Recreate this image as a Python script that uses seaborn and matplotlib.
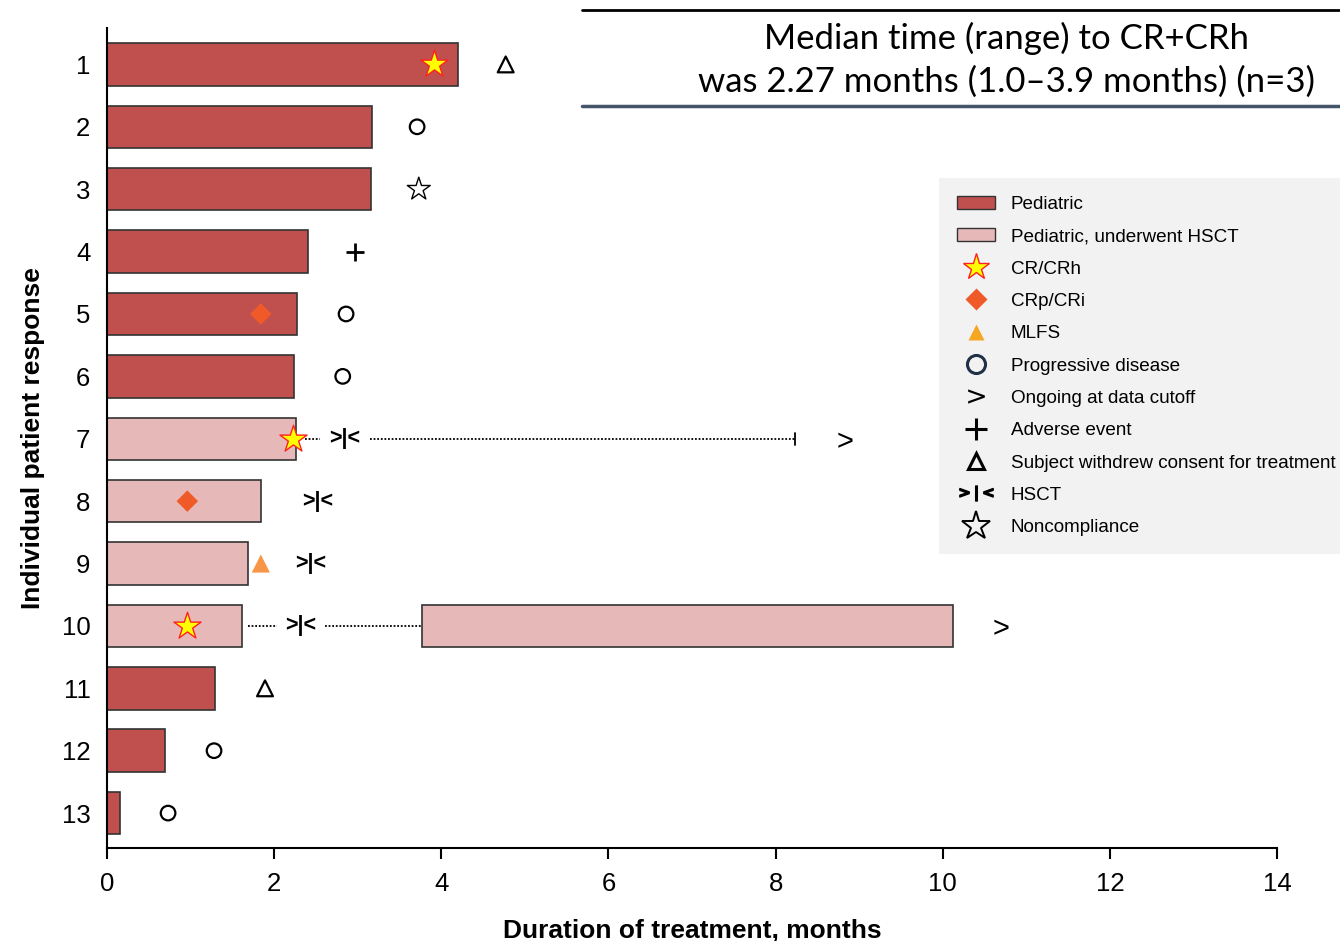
import numpy as np
import pandas as pd
import matplotlib
matplotlib.use("Agg")
import matplotlib.pyplot as plt
import seaborn as sns
from matplotlib.lines import Line2D
from matplotlib.patches import Patch

# Per-patient treatment duration (months)
patients = list(range(1, 14))
duration = [4.20, 3.17, 3.16, 2.41, 2.27, 2.24, 2.26, 1.84, 1.69, 1.62, 1.29, 0.69, 0.16]
group = ["Pediatric"] * 6 + ["Pediatric, underwent HSCT"] * 4 + ["Pediatric"] * 3

# Second treatment segment after HSCT (patient 10)
seg2_patient = [10]
seg2_start = [3.77]
seg2_end = [10.12]

# Response / event markers
cr_patient = [1, 7, 10]
cr_time = [3.91, 2.23, 0.96]
crp_patient = [5, 8]
crp_time = [1.84, 0.96]
mlfs_patient = [9]
mlfs_time = [1.84]
pd_patient = [2, 5, 6, 12, 13]
pd_time = [3.71, 2.86, 2.82, 1.28, 0.73]
ongoing_patient = [7, 10]
ongoing_time = [8.83, 10.70]
ae_patient = [4]
ae_time = [2.97]
withdrew_patient = [1, 11]
withdrew_time = [4.77, 1.89]
hsct_patient = [7, 8, 9, 10]
hsct_time = [2.84, 2.52, 2.43, 2.32]
noncomp_patient = [3]
noncomp_time = [3.73]

# Dotted follow-up lines
dot_patient = [7, 7, 10, 10]
dot_start = [2.37, 3.15, 1.69, 2.61]
dot_end = [2.55, 8.23, 2.03, 3.77]
end_tick_patient = [7]
end_tick_time = [8.23]

c_dark = "#C0504D"
c_light = "#E6B9B8"
palette = {"Pediatric": c_dark, "Pediatric, underwent HSCT": c_light}

sns.set_style("white")
plt.rcParams['font.family'] = ['Liberation Sans', 'DejaVu Sans']
plt.rcParams['text.color'] = 'black'
plt.rcParams['axes.labelcolor'] = 'black'
plt.rcParams['xtick.color'] = 'black'
plt.rcParams['ytick.color'] = 'black'

fig = plt.figure(figsize=(13.4, 9.41), dpi=100)
ax = fig.add_axes([0.0799, 0.0988, 0.8731, 0.8712])

df = pd.DataFrame({"patient": patients, "duration": duration, "group": group})
sns.barplot(data=df, x="duration", y="patient", hue="group", orient="y",
            native_scale=True, dodge=False, palette=palette, width=0.68,
            saturation=1, edgecolor="#333333", linewidth=1.2, legend=False, ax=ax)
ax.barh(seg2_patient, np.array(seg2_end) - np.array(seg2_start), left=seg2_start,
        height=0.68, color=c_light, edgecolor="#333333", linewidth=1.2)

for p, s, e in zip(dot_patient, dot_start, dot_end):
    ax.plot([s, e], [p, p], color="black", lw=1.3, ls=(0, (1, 1)))
for p, t in zip(end_tick_patient, end_tick_time):
    ax.plot([t, t], [p - 0.1, p + 0.1], color="black", lw=1.3)

ax.scatter(cr_time, cr_patient, marker="*", s=420, facecolor="#FFFF00",
           edgecolor="#FF2020", linewidth=1.0, zorder=5)
ax.scatter(crp_time, crp_patient, marker="D", s=120, facecolor="#F05A28",
           edgecolor="none", zorder=5)
ax.scatter(mlfs_time, mlfs_patient, marker="^", s=170, facecolor="#F79646",
           edgecolor="none", zorder=5)
ax.scatter(pd_time, pd_patient, marker="o", s=110, facecolor="none",
           edgecolor="black", linewidth=1.6, zorder=5)
ax.scatter(ae_time, ae_patient, marker="+", s=170, color="black",
           linewidth=2.0, zorder=5)
ax.scatter(withdrew_time, withdrew_patient, marker="^", s=130, facecolor="none",
           edgecolor="black", linewidth=1.6, zorder=5)
ax.scatter(noncomp_time, noncomp_patient, marker="*", s=300, facecolor="none",
           edgecolor="black", linewidth=1.0, zorder=5)
for p, t in zip(hsct_patient, hsct_time):
    ax.text(t, p, ">|<", ha="center", va="center", fontsize=15.5,
            fontweight="bold", color="black")
for p, t in zip(ongoing_patient, ongoing_time):
    ax.text(t, p + 0.05, ">", ha="center", va="center", fontsize=21, color="black")

ax.set_xlim(0, 14)
ax.set_ylim(13.56, 0.42)
ax.set_xticks(range(0, 15, 2))
ax.set_yticks(patients)
ax.set_yticklabels([str(p) for p in patients])
ax.tick_params(axis="x", direction="out", length=8, width=1.5, labelsize=18.5, pad=9,
               bottom=True, color="black")
ax.tick_params(axis="y", length=0, labelsize=18.5, pad=12)
for side in ["top", "right"]:
    ax.spines[side].set_visible(False)
for side in ["left", "bottom"]:
    ax.spines[side].set_color("black")
    ax.spines[side].set_linewidth(1.5)
ax.set_xlabel("Duration of treatment, months", fontsize=19, fontweight="bold", labelpad=17)
ax.set_ylabel("Individual patient response", fontsize=19, fontweight="bold", labelpad=12)

# Legend
handles = [
    Patch(facecolor=c_dark, edgecolor="#333333"),
    Patch(facecolor=c_light, edgecolor="#333333"),
    Line2D([], [], ls="none", marker="*", ms=20, mfc="#FFFF00", mec="#FF2020", mew=1.0),
    Line2D([], [], ls="none", marker="D", ms=11, mfc="#F05A28", mec="none"),
    Line2D([], [], ls="none", marker="^", ms=12, mfc="#F5A623", mec="none"),
    Line2D([], [], ls="none", marker="o", ms=13, mfc="none", mec="#1F3047", mew=2.2),
    Line2D([], [], ls="none", marker="$>$", ms=12, color="black", mew=0),
    Line2D([], [], ls="none", marker="+", ms=16, color="black", mew=2.2),
    Line2D([], [], ls="none", marker="^", ms=12, mfc="none", mec="black", mew=2.2),
    Line2D([], [], ls="none", marker="$\\mathbf{>|<}$", ms=24, color="black"),
    Line2D([], [], ls="none", marker="*", ms=21, mfc="none", mec="black", mew=1.4),
]
labels = ["Pediatric", "Pediatric, underwent HSCT", "CR/CRh", "CRp/CRi", "MLFS",
          "Progressive disease", "Ongoing at data cutoff", "Adverse event",
          "Subject withdrew consent for treatment", "HSCT", "Noncompliance"]
leg = fig.legend(handles, labels, loc="upper left", bbox_to_anchor=(0.7007, 0.811),
                 fontsize=13.6, frameon=True, facecolor="#F2F2F2", edgecolor="none",
                 fancybox=False, framealpha=1, labelspacing=0.8, handlelength=2.0,
                 handletextpad=0.85, borderpad=0.95, borderaxespad=0)

# Annotation box
fig.add_artist(Line2D([582 / 1340, 1.0], [1 - 10 / 941, 1 - 10 / 941], color="black", lw=2))
fig.add_artist(Line2D([582 / 1340, 1.0], [1 - 106 / 941, 1 - 106 / 941], color="#44546A", lw=2.5))
fig.text(1007 / 1340, 1 - 38 / 941, "Median time (range) to CR+CRh", ha="center", va="center",
         fontsize=25, family=["Lato", "DejaVu Sans"])
fig.text(1007 / 1340, 1 - 82 / 941, "was 2.27 months (1.0\u20133.9 months) (n=3)", ha="center",
         va="center", fontsize=25, family=["Lato", "DejaVu Sans"])

fig.savefig("out.png", dpi=100)
